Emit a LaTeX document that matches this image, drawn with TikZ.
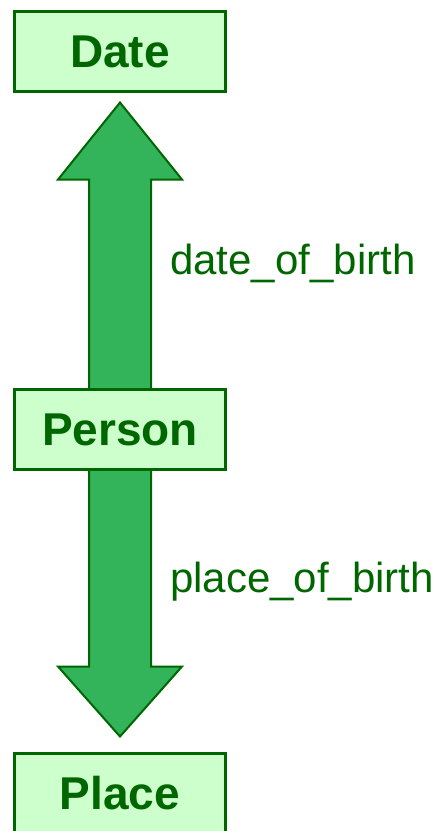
\documentclass[tikz,border=0pt]{standalone}
\usepackage{fontspec}
\setmainfont{Liberation Sans}
\usetikzlibrary{positioning,calc,backgrounds}

\definecolor{boxfill}{RGB}{204,255,204}
\definecolor{darkgrn}{RGB}{0,102,0}
\definecolor{arrowfill}{RGB}{51,179,90}

\begin{document}
\begin{tikzpicture}[
    x=1pt, y=-1pt,
    entity/.style={rectangle, draw=darkgrn, line width=3pt, fill=boxfill, minimum width=211pt, minimum height=80pt, text=darkgrn, font=\fontsize{46}{50}\selectfont\bfseries, inner sep=0pt},
    blockarrow/.style={draw=darkgrn, line width=2pt, fill=arrowfill, line join=miter},
    relation/.style={text=darkgrn, font=\fontsize{42}{46}\selectfont, anchor=west, inner sep=0pt}
]
\useasboundingbox (0,0) rectangle (442,831);

% Entities
\node[entity] (date) at (120,51.5) {Date};
\node[entity] (person) at (120,429.5) {Person};
\node[entity] (place) at (120,793.5) {Place};

% Relation labels
\node[relation] (dob) at (170,263) {date\_of\_birth};
\node[relation] (pob) at (170,582) {place\_of\_birth};

% Block arrows behind the boxes
\begin{scope}[on background layer]
\draw[blockarrow] ($(person.center)+(-31,0)$) -- ($(date.south)+(-31,86.5)$) -- ($(date.south)+(-62,86.5)$)
    -- ($(date.south)+(0,9.5)$) -- ($(date.south)+(62,86.5)$) -- ($(date.south)+(31,86.5)$)
    -- ($(person.center)+(31,0)$) -- cycle;
\draw[blockarrow] ($(person.center)+(-31,0)$) -- ($(place.north)+(-31,-85.5)$) -- ($(place.north)+(-62,-85.5)$)
    -- ($(place.north)+(0,-15.5)$) -- ($(place.north)+(62,-85.5)$) -- ($(place.north)+(31,-85.5)$)
    -- ($(person.center)+(31,0)$) -- cycle;
\end{scope}

\end{tikzpicture}
\end{document}
